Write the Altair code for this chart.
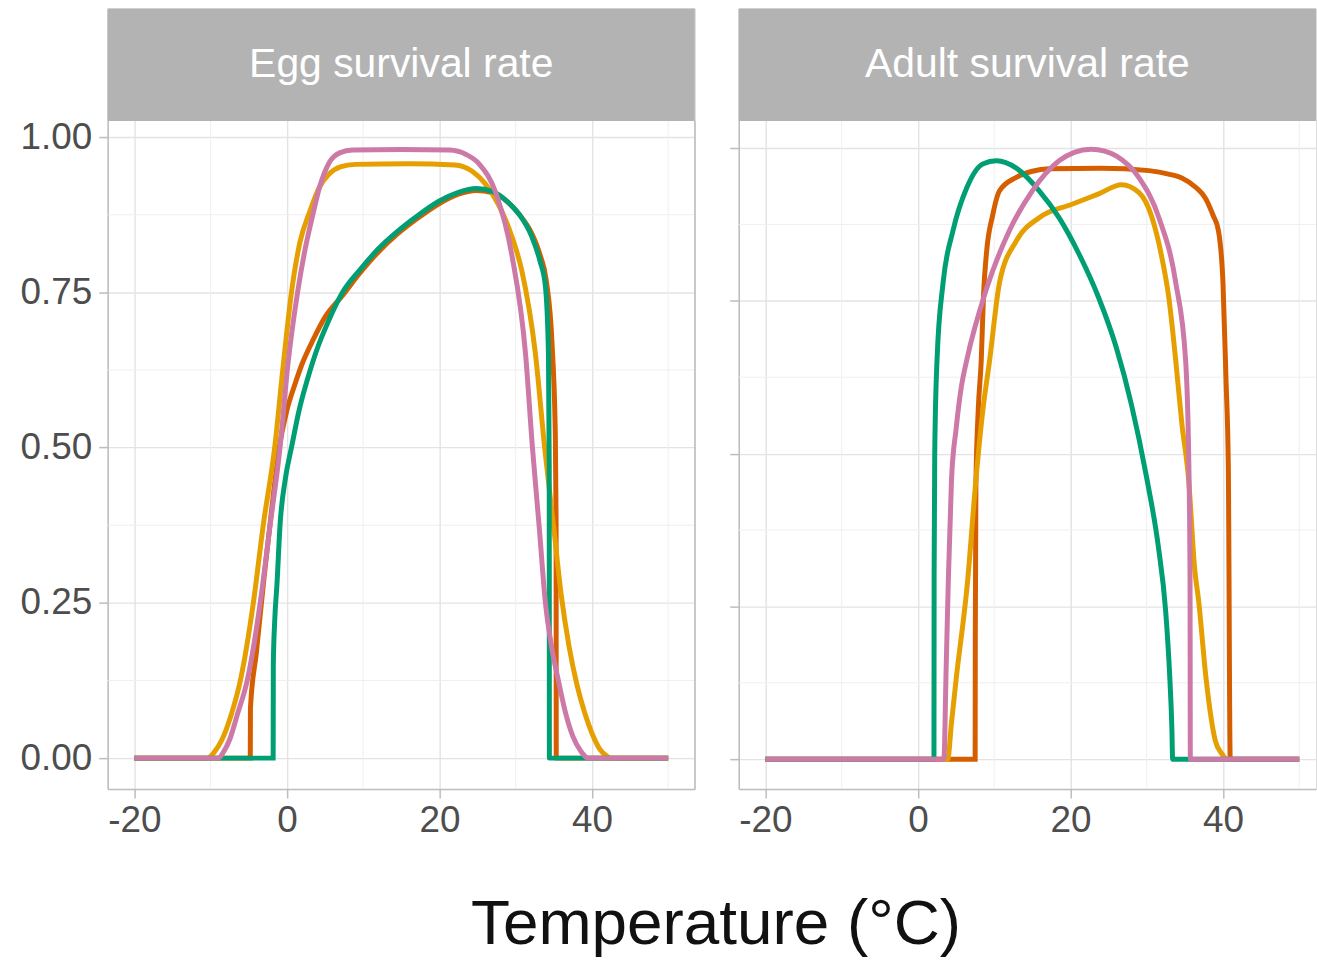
import altair as alt
import pandas as pd

# ---- labels and axis breaks ----
panel_titles = ["Egg survival rate", "Adult survival rate"]
x_title = "Temperature (°C)"
x_ticks = [-20, 0, 20, 40]
x_minor = [-10, 10, 30, 50]
y_ticks = [0.0, 0.25, 0.5, 0.75, 1.0]
y_minor = [0.125, 0.375, 0.625, 0.875]

# drawing order: vermillion first, pink last (on top)
series_names = ["vermillion", "orange", "green", "pink"]
series_colors = ["#D55E00", "#E69F00", "#009E73", "#CC79A7"]

# ---- egg survival curves (temperature, rate) ----
egg_vermillion_temp = [-20, -4.8, -4.78, -4.0, -3.0, -2.0, -1.0, 0.0, 1.0, 2.0, 3.5, 5.0, 7.3, 9.5,
                       12.0, 14.5, 17.0, 20.0, 22.5, 24.8, 27.0, 29.0, 30.5, 32.1, 33.2, 34.0, 34.8,
                       35.2, 35.3, 35.32, 50]
egg_vermillion_rate = [0, 0, 0.08, 0.17, 0.29, 0.40, 0.50, 0.56, 0.60, 0.635, 0.675, 0.71, 0.745, 0.78,
                       0.815, 0.844, 0.868, 0.893, 0.908, 0.914, 0.91, 0.895, 0.875, 0.845, 0.81, 0.77, 0.66,
                       0.52, 0.38, 0, 0]

egg_orange_temp = [-20, -10.4, -9.5, -8.5, -7.3, -6.1, -4.4, -3.1, -1.6, -0.5, 0.6, 1.7, 3.0, 4.3, 5.5,
                   7.0, 9.0, 16.0, 22.0, 24.3, 26.0, 27.8, 29.5, 30.8, 32.6, 33.8, 35.0, 36.0, 37.0,
                   38.0, 39.0, 40.0, 41.0, 42.0, 42.5, 50]
egg_orange_rate = [0, 0, 0.01, 0.03, 0.07, 0.125, 0.25, 0.375, 0.50, 0.63, 0.75, 0.83, 0.88, 0.92, 0.94,
                   0.952, 0.956, 0.957, 0.955, 0.945, 0.925, 0.89, 0.84, 0.785, 0.65, 0.50, 0.37, 0.26, 0.18,
                   0.12, 0.075, 0.04, 0.015, 0.003, 0, 0]

egg_green_temp = [-20, -1.8, -1.78, -1.6, -1.3, -0.9, -0.2, 0.6, 1.6, 2.7, 4.0, 5.5, 7.3, 9.5, 12.0,
                  14.5, 17.0, 20.0, 22.5, 24.8, 27.0, 29.0, 30.5, 32.1, 33.2, 33.9, 34.3, 34.4, 34.42, 50]
egg_green_rate = [0, 0, 0.15, 0.22, 0.28, 0.375, 0.45, 0.50, 0.56, 0.61, 0.66, 0.705, 0.75, 0.785, 0.82,
                  0.848, 0.872, 0.897, 0.911, 0.917, 0.912, 0.895, 0.875, 0.84, 0.80, 0.76, 0.65, 0.47, 0, 0]

egg_pink_temp = [-20, -9.0, -8.3, -7.5, -6.5, -5.2, -3.5, -2.2, -0.9, 0.1, 1.4, 2.4, 3.4, 4.3, 5.6,
                 7.0, 8.6, 15.0, 21.3, 23.5, 25.2, 27.4, 29.5, 31.3, 32.2, 33.1, 33.9, 34.7, 35.6,
                 36.6, 37.5, 38.5, 39.5, 50]
egg_pink_rate = [0, 0, 0.01, 0.03, 0.07, 0.125, 0.25, 0.375, 0.50, 0.63, 0.75, 0.82, 0.875, 0.92, 0.96,
                 0.975, 0.979, 0.98, 0.979, 0.972, 0.957, 0.91, 0.81, 0.65, 0.50, 0.37, 0.25, 0.18, 0.125,
                 0.07, 0.035, 0.012, 0, 0]

# ---- adult survival curves (temperature, rate) ----
adult_vermillion_temp = [-20, 7.5, 7.52, 7.6, 7.9, 8.3, 8.6, 9.0, 9.8, 10.7, 12.9, 15.0, 17.2, 24.0,
                         30.3, 33.0, 34.6, 36.5, 37.7, 38.7, 39.4, 40.0, 40.4, 40.7, 40.95, 50]
adult_vermillion_rate = [0, 0, 0.20, 0.45, 0.57, 0.653, 0.76, 0.83, 0.89, 0.93, 0.952, 0.962, 0.966, 0.967,
                         0.963, 0.957, 0.951, 0.935, 0.918, 0.89, 0.865, 0.78, 0.62, 0.48, 0, 0]

adult_orange_temp = [-20, 3.9, 4.4, 5.0, 6.5, 7.6, 8.5, 9.4, 10.7, 12.9, 15.9, 20.2, 23.7, 26.7, 29.0,
                     30.7, 32.0, 32.9, 33.8, 34.6, 35.5, 36.3, 36.8, 37.8, 39.0, 39.9, 40.5, 50]
adult_orange_rate = [0, 0, 0.06, 0.13, 0.29, 0.457, 0.57, 0.653, 0.78, 0.848, 0.886, 0.908, 0.925, 0.94, 0.927,
                     0.886, 0.82, 0.755, 0.653, 0.55, 0.457, 0.31, 0.26, 0.13, 0.03, 0.008, 0, 0]

adult_green_temp = [-20, 2.1, 2.12, 2.2, 2.5, 3.3, 4.6, 6.4, 8.5, 10.3, 12.9, 15.9, 18.5, 21.1, 23.7,
                    26.0, 28.0, 30.0, 31.5, 32.5, 33.0, 33.3, 33.4, 50]
adult_green_rate = [0, 0, 0.30, 0.50, 0.653, 0.78, 0.865, 0.935, 0.974, 0.979, 0.967, 0.93, 0.886, 0.827, 0.755,
                    0.674, 0.58, 0.46, 0.35, 0.24, 0.14, 0.05, 0, 0]

adult_pink_temp = [-20, 3.4, 3.7, 4.0, 4.4, 5.0, 5.7, 6.4, 9.0, 12.0, 15.0, 18.5, 20.5, 22.7, 24.5,
                   26.0, 29.0, 31.6, 33.8, 35.1, 35.5, 35.68, 35.72, 50]
adult_pink_rate = [0, 0, 0.15, 0.30, 0.457, 0.54, 0.61, 0.653, 0.77, 0.865, 0.93, 0.979, 0.993, 0.998, 0.995,
                   0.987, 0.951, 0.886, 0.78, 0.653, 0.50, 0.30, 0, 0]

egg_temps = [egg_vermillion_temp, egg_orange_temp, egg_green_temp, egg_pink_temp]
egg_rates = [egg_vermillion_rate, egg_orange_rate, egg_green_rate, egg_pink_rate]
adult_temps = [adult_vermillion_temp, adult_orange_temp, adult_green_temp, adult_pink_temp]
adult_rates = [adult_vermillion_rate, adult_orange_rate, adult_green_rate, adult_pink_rate]


def long_table(temps, rates):
    frames = [pd.DataFrame({"temp": t, "rate": r, "series": name})
              for name, t, r in zip(series_names, temps, rates)]
    return pd.concat(frames, ignore_index=True)


FONT = "Liberation Sans"
STRIP_H = 113          # grey header strip on top of each panel
PANEL_H = 783          # strip + plotting region
BORDER = "#bdbdbd"
STRIP_FILL = "#b3b3b3"
LABEL_COLOR = "#4d4d4d"
MAJOR_GRID = "#e3e3e3"
MINOR_GRID = "#efefef"
TICK_FONT_SIZE = 37


def panel(data, title, width, x_domain, y_domain, y_labels, right_border):
    x_axis = alt.Axis(values=x_ticks, title=None, labelExpr="'' + datum.value",
                      labelFontSize=TICK_FONT_SIZE, labelColor=LABEL_COLOR,
                      labelFont=FONT, labelPadding=5, labelFlush=False,
                      tickColor=BORDER, tickSize=9, tickWidth=1.5,
                      domainColor=BORDER, domainWidth=1.5,
                      gridColor=MAJOR_GRID, gridWidth=1.4)
    y_axis = alt.Axis(values=y_ticks, format=".2f", title=None, labels=y_labels,
                      labelFontSize=TICK_FONT_SIZE, labelColor=LABEL_COLOR, labelFont=FONT, labelPadding=7,
                      tickColor=BORDER, tickSize=9, tickWidth=1.5,
                      domainColor=BORDER, domainWidth=1.5,
                      gridColor=MAJOR_GRID, gridWidth=1.4)
    x_enc = alt.X("temp:Q", scale=alt.Scale(domain=x_domain, nice=False, zero=False), axis=x_axis)
    y_enc = alt.Y("rate:Q", scale=alt.Scale(domain=y_domain, nice=False, zero=False), axis=y_axis)

    layers = []
    # minor grid lines
    layers.append(
        alt.Chart(pd.DataFrame({"temp": x_minor})).mark_rule(color=MINOR_GRID, strokeWidth=1)
        .encode(x=x_enc, y=alt.value(STRIP_H), y2=alt.value(PANEL_H))
    )
    layers.append(
        alt.Chart(pd.DataFrame({"rate": y_minor})).mark_rule(color=MINOR_GRID, strokeWidth=1)
        .encode(y=y_enc, x=alt.value(0), x2=alt.value(width))
    )
    # survival curves
    for name, color in zip(series_names, series_colors):
        layers.append(
            alt.Chart(data[data["series"] == name])
            .mark_line(color=color, strokeWidth=5, interpolate="monotone")
            .encode(x=x_enc, y=y_enc)
        )
    # header strip
    head = pd.DataFrame({"label": [title]})
    layers.append(
        alt.Chart(head).mark_rect(color=STRIP_FILL)
        .encode(x=alt.value(0), x2=alt.value(width), y=alt.value(0), y2=alt.value(STRIP_H))
    )
    layers.append(
        alt.Chart(head).mark_text(color="white", font=FONT, fontSize=41, align="center", baseline="middle")
        .encode(x=alt.value(width / 2), y=alt.value(57), text="label:N")
    )
    if right_border:
        layers.append(
            alt.Chart(head).mark_rule(color=BORDER, strokeWidth=1.5)
            .encode(x=alt.value(width), y=alt.value(STRIP_H), y2=alt.value(PANEL_H))
        )
    return alt.layer(*layers).properties(width=width, height=PANEL_H)


egg = panel(long_table(egg_temps, egg_rates), panel_titles[0], 589,
            [-23.5, 53.5], [-0.0498, 1.2071], True, True)
adult = panel(long_table(adult_temps, adult_rates), panel_titles[1], 579,
              [-23.5, 52.2], [-0.0489, 1.2284], False, False)

chart = (
    alt.hconcat(egg, adult, spacing=31)
    .properties(
        title=alt.TitleParams(x_title, orient="bottom", anchor="middle", fontSize=64, font=FONT,
                              fontWeight="normal", color="#111111", offset=54, dx=48),
        padding={"left": 19, "top": 6, "right": 0, "bottom": 0},
    )
    .configure_view(stroke="transparent")
    .configure(background="white")
)

chart.save("out.html", embed_options={"renderer": "svg", "actions": False})
